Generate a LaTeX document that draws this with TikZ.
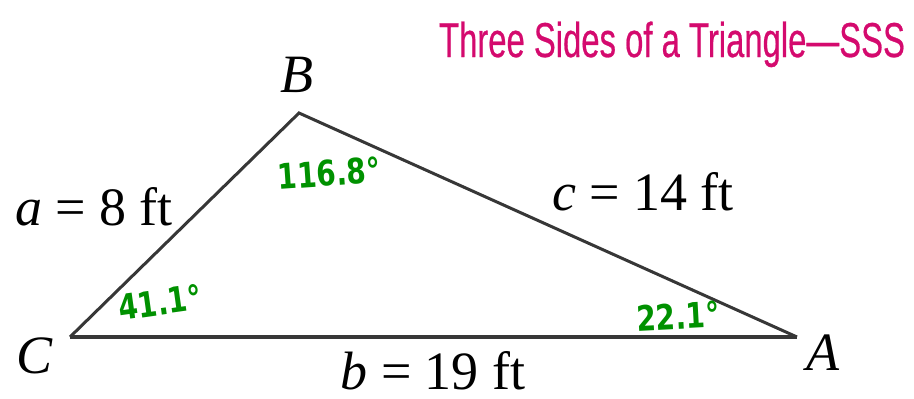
\documentclass[tikz,border=0pt]{standalone}
\usepackage{fontspec}
\setmainfont{Liberation Serif}
\newfontfamily\titlefont[FakeBold=0.6]{Liberation Sans}
\newfontfamily\handfont{DejaVu Sans}
\definecolor{titlemag}{RGB}{212,10,110}
\definecolor{pen}{RGB}{0,145,0}
\definecolor{edge}{RGB}{55,55,55}
\begin{document}
\begin{tikzpicture}[x=1pt,y=-1pt,
  lbl/.style={font=\fontsize{54}{60}\selectfont, inner sep=0pt, anchor=base},
  hand/.style={font=\handfont\bfseries\fontsize{35}{40}\selectfont, text=pen, inner sep=0pt},
  side/.style={draw=edge, line width=3pt, line cap=butt},
  bottomside/.style={draw=edge, line width=4pt}]
\useasboundingbox (0,0) rectangle (914,399);
\coordinate (C) at (70,337);
\coordinate (B) at (299,113);
\coordinate (A) at (797,337);
\draw[side] (C) -- (B) -- (A);
\draw[bottomside] (C) -- (A);
\node[inner sep=0pt, anchor=base, text=titlemag, font=\titlefont\fontsize{49}{55}\selectfont] (title) at (672,57) {\scalebox{0.67}[1]{Three Sides of a Triangle—SSS}};
\node[lbl] (nB) at (297,92) {\itshape B};
\node[lbl] (nC) at (35,373) {\itshape C};
\node[lbl] (nA) at (823,370) {\itshape A};
\node[lbl] (la) at (94,225) {\itshape a\upshape{} = 8 ft};
\node[lbl] (lc) at (643,210) {\itshape c\upshape{} = 14 ft};
\node[lbl] (lb) at (433,389) {\itshape b\upshape{} = 19 ft};
\node[hand, rotate=4] (angB) at (329,173) {\scalebox{0.8}[1]{116.8°}};
\node[hand, rotate=8] (angC) at (160,302) {\scalebox{0.8}[1]{41.1°}};
\node[hand, rotate=3] (angA) at (678,316) {\scalebox{0.8}[1]{22.1°}};
\end{tikzpicture}
\end{document}
